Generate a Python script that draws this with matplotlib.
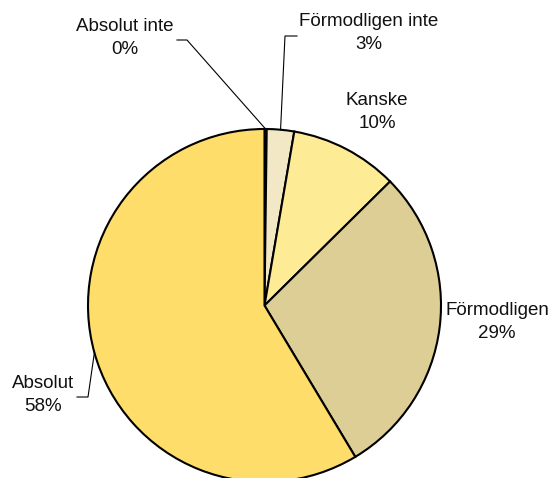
import numpy as np
import matplotlib.pyplot as plt

plt.rcParams['font.family'] = ['Liberation Sans', 'DejaVu Sans']

labels = ["Absolut inte", "Förmodligen inte", "Kanske", "Förmodligen", "Absolut"]
values = [0.2, 2.5, 9.9, 28.8, 58.6]
pct_text = ["0%", "3%", "10%", "29%", "58%"]
colors = ["#FFF3C8", "#F2E8C6", "#FDEB95", "#DCCE95", "#FFDD6B"]

W, H = 553, 478
fig = plt.figure(figsize=(W / 100, H / 100), dpi=100)
ax = fig.add_axes([0, 0, 1, 1])

cx, cy, r = 264.5, H - 305.5, 176.5
wedges, _ = ax.pie(values, colors=colors, startangle=90, counterclock=False,
                   center=(cx, cy), radius=r, frame=True,
                   wedgeprops=dict(edgecolor='black', linewidth=1.5))
ax.set_xlim(0, W)
ax.set_ylim(0, H)
ax.set_aspect('equal')
ax.axis('off')

# label positions (image pixels, y down) and leader elbows
lab_pos = [(125, 38), (369, 33), (377, 112), (497, 322), (43, 395)]
elbow = [[(177, 40), (187, 40)], [(285, 36), (297, 36)], None, None,
         [(77, 397), (88, 397)]]

for i, w in enumerate(wedges):
    x, y = lab_pos[i]
    ax.text(x, H - y, labels[i] + "\n" + pct_text[i], ha='center', va='center',
            fontsize=13.5, linespacing=1.45, color='#111111')
    if elbow[i] is not None:
        a = np.radians((w.theta1 + w.theta2) / 2)
        px = cx + r * np.cos(a)
        py = cy + r * np.sin(a)
        e = elbow[i]
        if e[0][0] < px:
            pts = [e[0], e[1]]
        else:
            pts = [e[1], e[0]]
        xs = [pts[0][0], pts[1][0], px]
        ys = [H - pts[0][1], H - pts[1][1], py]
        ax.plot(xs, ys, color='black', linewidth=0.8)

fig.savefig("out.png", dpi=100)
